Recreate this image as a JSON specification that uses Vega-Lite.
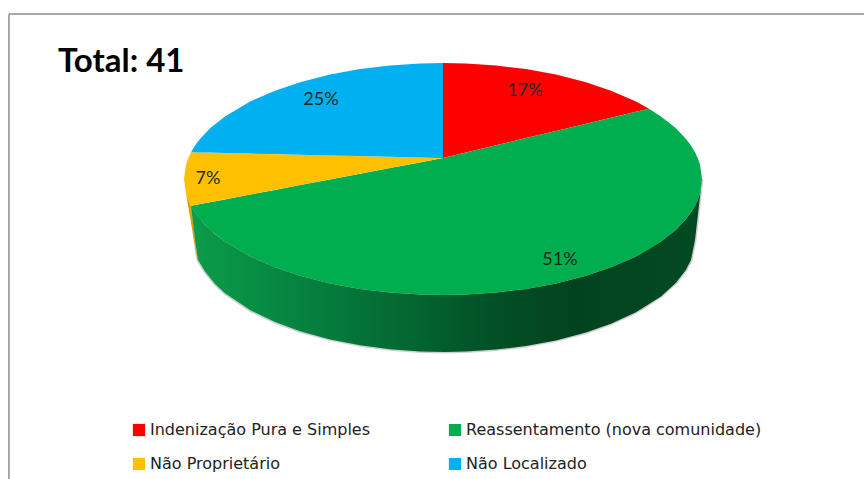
{
"$schema":"https://vega.github.io/schema/vega-lite/v6.json",
"width":864,"height":479,"padding":0,"autosize":{"type":"none"},
"background":"white",
"config":{"view":{"stroke":null},"axis":{"disable":true}},
"datasets":{
"frame":[{"x":9,"x2":864,"y":14,"y2":14},{"x":9,"x2":9,"y":14,"y2":479}],
"title":[{"x":58,"y":72,"text":"Total: 41"}],
"labels":[{"x":525,"y":91,"text":"17%"},{"x":560,"y":260,"text":"51%"},{"x":208,"y":179,"text":"7%"},{"x":321,"y":100,"text":"25%"}],
"rimYellow":[{"x":186,"y":193.4,"y2":193.4},{"x":191,"y":205.8,"y2":222.8},{"x":195,"y":240,"y2":246.2},{"x":197,"y":255,"y2":258},{"x":198,"y":260,"y2":260}],
"rimGreen":[{"x":191,"y":205.8,"y2":205.8},{"x":195,"y":212.5,"y2":240},{"x":198,"y":216.6,"y2":260},{"x":205,"y":224.7,"y2":271.4},{"x":215,"y":234,"y2":283.9},{"x":225,"y":241.6,"y2":293.2},{"x":250,"y":256.4,"y2":310.1},{"x":275,"y":267.3,"y2":322.1},{"x":300,"y":275.7,"y2":331.2},{"x":330,"y":283.4,"y2":339.4},{"x":360,"y":288.9,"y2":345.3},{"x":390,"y":292.5,"y2":349.3},{"x":420,"y":294.5,"y2":351.4},{"x":445,"y":295,"y2":352},{"x":466,"y":294.5,"y2":351.6},{"x":496,"y":292.5,"y2":349.6},{"x":526,"y":288.9,"y2":346},{"x":556,"y":283.4,"y2":340.4},{"x":586,"y":275.7,"y2":332.5},{"x":611,"y":267.3,"y2":323.7},{"x":636,"y":256.4,"y2":312.3},{"x":661,"y":241.6,"y2":296.4},{"x":676,"y":229.7,"y2":282.8},{"x":686,"y":219.1,"y2":269.8},{"x":691,"y":212.5,"y2":259.9},{"x":695,"y":205.8,"y2":240},{"x":698,"y":199.3,"y2":213.9},{"x":700,"y":193.4,"y2":196.4},{"x":702,"y":179,"y2":179}],
"slices":[
{"s":"Indenização Pura e Simples","x":443,"y":63,"y2":158},{"s":"Indenização Pura e Simples","x":466,"y":63.5,"y2":152.5},{"s":"Indenização Pura e Simples","x":496,"y":65.5,"y2":145.3},{"s":"Indenização Pura e Simples","x":526,"y":69.1,"y2":138.1},{"s":"Indenização Pura e Simples","x":556,"y":74.6,"y2":131},{"s":"Indenização Pura e Simples","x":586,"y":82.3,"y2":123.8},{"s":"Indenização Pura e Simples","x":611,"y":90.7,"y2":117.8},{"s":"Indenização Pura e Simples","x":636,"y":101.6,"y2":111.8},{"s":"Indenização Pura e Simples","x":649,"y":108.7,"y2":108.7},
{"s":"Reassentamento (nova comunidade)","x":191,"y":205.8,"y2":205.8},{"s":"Reassentamento (nova comunidade)","x":195,"y":205,"y2":212.5},{"s":"Reassentamento (nova comunidade)","x":200,"y":204.1,"y2":219.1},{"s":"Reassentamento (nova comunidade)","x":210,"y":202.2,"y2":229.7},{"s":"Reassentamento (nova comunidade)","x":225,"y":199.4,"y2":241.6},{"s":"Reassentamento (nova comunidade)","x":250,"y":194.6,"y2":256.4},{"s":"Reassentamento (nova comunidade)","x":275,"y":189.9,"y2":267.3},{"s":"Reassentamento (nova comunidade)","x":300,"y":185.1,"y2":275.7},{"s":"Reassentamento (nova comunidade)","x":330,"y":179.4,"y2":283.4},{"s":"Reassentamento (nova comunidade)","x":360,"y":173.7,"y2":288.9},{"s":"Reassentamento (nova comunidade)","x":390,"y":168,"y2":292.5},{"s":"Reassentamento (nova comunidade)","x":420,"y":162.4,"y2":294.5},{"s":"Reassentamento (nova comunidade)","x":443,"y":158,"y2":295},{"s":"Reassentamento (nova comunidade)","x":466,"y":152.5,"y2":294.5},{"s":"Reassentamento (nova comunidade)","x":496,"y":145.3,"y2":292.5},{"s":"Reassentamento (nova comunidade)","x":526,"y":138.1,"y2":288.9},{"s":"Reassentamento (nova comunidade)","x":556,"y":131,"y2":283.4},{"s":"Reassentamento (nova comunidade)","x":586,"y":123.8,"y2":275.7},{"s":"Reassentamento (nova comunidade)","x":611,"y":117.8,"y2":267.3},{"s":"Reassentamento (nova comunidade)","x":636,"y":111.8,"y2":256.4},{"s":"Reassentamento (nova comunidade)","x":649,"y":108.7,"y2":249.3},{"s":"Reassentamento (nova comunidade)","x":661,"y":116.4,"y2":241.6},{"s":"Reassentamento (nova comunidade)","x":676,"y":128.3,"y2":229.7},{"s":"Reassentamento (nova comunidade)","x":686,"y":138.9,"y2":219.1},{"s":"Reassentamento (nova comunidade)","x":691,"y":145.5,"y2":212.5},{"s":"Reassentamento (nova comunidade)","x":695,"y":152.2,"y2":205.8},{"s":"Reassentamento (nova comunidade)","x":698,"y":158.7,"y2":199.3},{"s":"Reassentamento (nova comunidade)","x":700,"y":164.6,"y2":193.4},{"s":"Reassentamento (nova comunidade)","x":702,"y":179,"y2":179},
{"s":"Não Proprietário","x":184,"y":179,"y2":179},{"s":"Não Proprietário","x":186,"y":164.6,"y2":193.4},{"s":"Não Proprietário","x":188,"y":158.7,"y2":199.3},{"s":"Não Proprietário","x":191,"y":152.2,"y2":205.8},{"s":"Não Proprietário","x":443,"y":158,"y2":158},
{"s":"Não Localizado","x":191,"y":152.2,"y2":152.2},{"s":"Não Localizado","x":195,"y":145.5,"y2":152.3},{"s":"Não Localizado","x":200,"y":138.9,"y2":152.4},{"s":"Não Localizado","x":210,"y":128.3,"y2":152.6},{"s":"Não Localizado","x":225,"y":116.4,"y2":153},{"s":"Não Localizado","x":250,"y":101.6,"y2":153.6},{"s":"Não Localizado","x":275,"y":90.7,"y2":154.1},{"s":"Não Localizado","x":300,"y":82.3,"y2":154.7},{"s":"Não Localizado","x":330,"y":74.6,"y2":155.4},{"s":"Não Localizado","x":360,"y":69.1,"y2":156.1},{"s":"Não Localizado","x":390,"y":65.5,"y2":156.8},{"s":"Não Localizado","x":420,"y":63.5,"y2":157.5},{"s":"Não Localizado","x":443,"y":63,"y2":158}
]},
"encoding":{
"x":{"field":"x","type":"quantitative","scale":{"domain":[0,864],"nice":false,"zero":false},"axis":null,"title":null},
"y":{"field":"y","type":"quantitative","scale":{"domain":[479,0],"nice":false,"zero":false},"axis":null,"title":null}
},
"layer":[
{"data":{"name":"frame"},"mark":{"type":"rule","color":"#8c8c8c","strokeWidth":1.5},"encoding":{"x2":{"field":"x2"},"y2":{"field":"y2"}}},
{"data":{"name":"rimGreen"},"mark":{"type":"area","color":"#b5b5b5","stroke":"#c4c4c4","strokeWidth":3,"opacity":0.8},"encoding":{"y2":{"field":"y2"}}},
{"data":{"name":"rimYellow"},"mark":{"type":"area","color":"#d9a200"},"encoding":{"y2":{"field":"y2"}}},
{"data":{"name":"rimGreen"},"mark":{"type":"area","color":{"gradient":"linear","x1":0,"y1":0,"x2":1,"y2":0,"stops":[{"offset":0,"color":"#0b9c4a"},{"offset":0.2,"color":"#068440"},{"offset":0.4,"color":"#036a33"},{"offset":0.6,"color":"#024f25"},{"offset":0.75,"color":"#02431f"},{"offset":1,"color":"#024a22"}]}},"encoding":{"y2":{"field":"y2"}}},
{"data":{"name":"slices"},"mark":{"type":"area"},"encoding":{"y2":{"field":"y2"},
"color":{"field":"s","type":"nominal","sort":null,"scale":{"domain":["Indenização Pura e Simples","Reassentamento (nova comunidade)","Não Proprietário","Não Localizado"],"range":["#ff0000","#00ae50","#ffc000","#00b0f0"]},
"legend":{"title":null,"orient":"none","legendX":131,"legendY":421,"columns":2,"direction":"horizontal","symbolType":"square","symbolSize":150,"symbolStrokeWidth":0,"labelFont":"DejaVu Sans","labelFontSize":16,"labelColor":"#222222","labelOffset":3,"rowPadding":16,"columnPadding":77,"labelLimit":400,"clipHeight":18}}}},
{"data":{"name":"labels"},"mark":{"type":"text","font":"Lato","fontSize":18,"color":"#1a2a20","align":"center","baseline":"middle"},"encoding":{"text":{"field":"text"}}},
{"data":{"name":"title"},"mark":{"type":"text","font":"Lato","fontWeight":"bold","fontSize":33,"color":"#000000","align":"left","baseline":"alphabetic"},"encoding":{"text":{"field":"text"}}}
]
}
